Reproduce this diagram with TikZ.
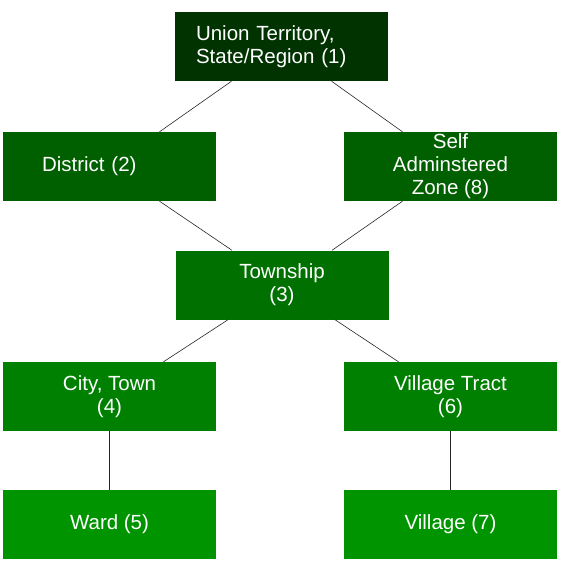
\documentclass[tikz,border=0pt]{standalone}
\usepackage{fontspec}
\setmainfont{Liberation Sans}
\usetikzlibrary{positioning}
\definecolor{lvlA}{RGB}{0,51,0}
\definecolor{lvlB}{RGB}{0,96,0}
\definecolor{lvlC}{RGB}{0,112,0}
\definecolor{lvlD}{RGB}{0,128,0}
\definecolor{lvlE}{RGB}{0,148,0}

\begin{document}
\begin{tikzpicture}[
  x=1pt, y=1pt,
  font=\fontsize{20.5}{23}\selectfont,
  unit/.style={minimum width=213pt, minimum height=69pt, align=center, text=white, inner sep=0pt},
  link/.style={draw=black!85, line width=0.6pt}
]
  \useasboundingbox (0,0) rectangle (567,-567);

  \node[unit, fill=lvlA, align=left, text width=171pt, inner xsep=21pt] (union) at (281.5,-46.5) {Union Territory,\\State/Region (1)};
  \node[unit, fill=lvlB, align=left, text width=135pt, inner xsep=39pt] (dist) at (109.5,-166.5) {District (2)};
  \node[unit, fill=lvlB] (self) at (450.5,-166.5) {Self\\Adminstered\\Zone (8)};
  \node[unit, fill=lvlC] (town) at (282,-285) {Township\\(3)};
  \node[unit, fill=lvlD] (city) at (109.5,-396.5) {City, Town\\(4)};
  \node[unit, fill=lvlD] (tract) at (450.5,-396.5) {Village Tract\\(6)};
  \node[unit, fill=lvlE] (ward) at (109.5,-524.5) {Ward (5)};
  \node[unit, fill=lvlE] (vill) at (450.5,-524.5) {Village (7)};

  \draw[link] ([xshift=-50pt]union.south) -- ([xshift=50pt]dist.north);
  \draw[link] ([xshift=50pt]union.south) -- ([xshift=-48pt]self.north);
  \draw[link] ([xshift=50pt]dist.south) -- ([xshift=-50pt]town.north);
  \draw[link] ([xshift=-48pt]self.south) -- ([xshift=50pt]town.north);
  \draw[link] ([xshift=-54pt]town.south) -- ([xshift=54pt]city.north);
  \draw[link] ([xshift=53pt]town.south) -- ([xshift=-52pt]tract.north);
  \draw[link] (city.south) -- (ward.north);
  \draw[link] (tract.south) -- (vill.north);
\end{tikzpicture}
\end{document}
